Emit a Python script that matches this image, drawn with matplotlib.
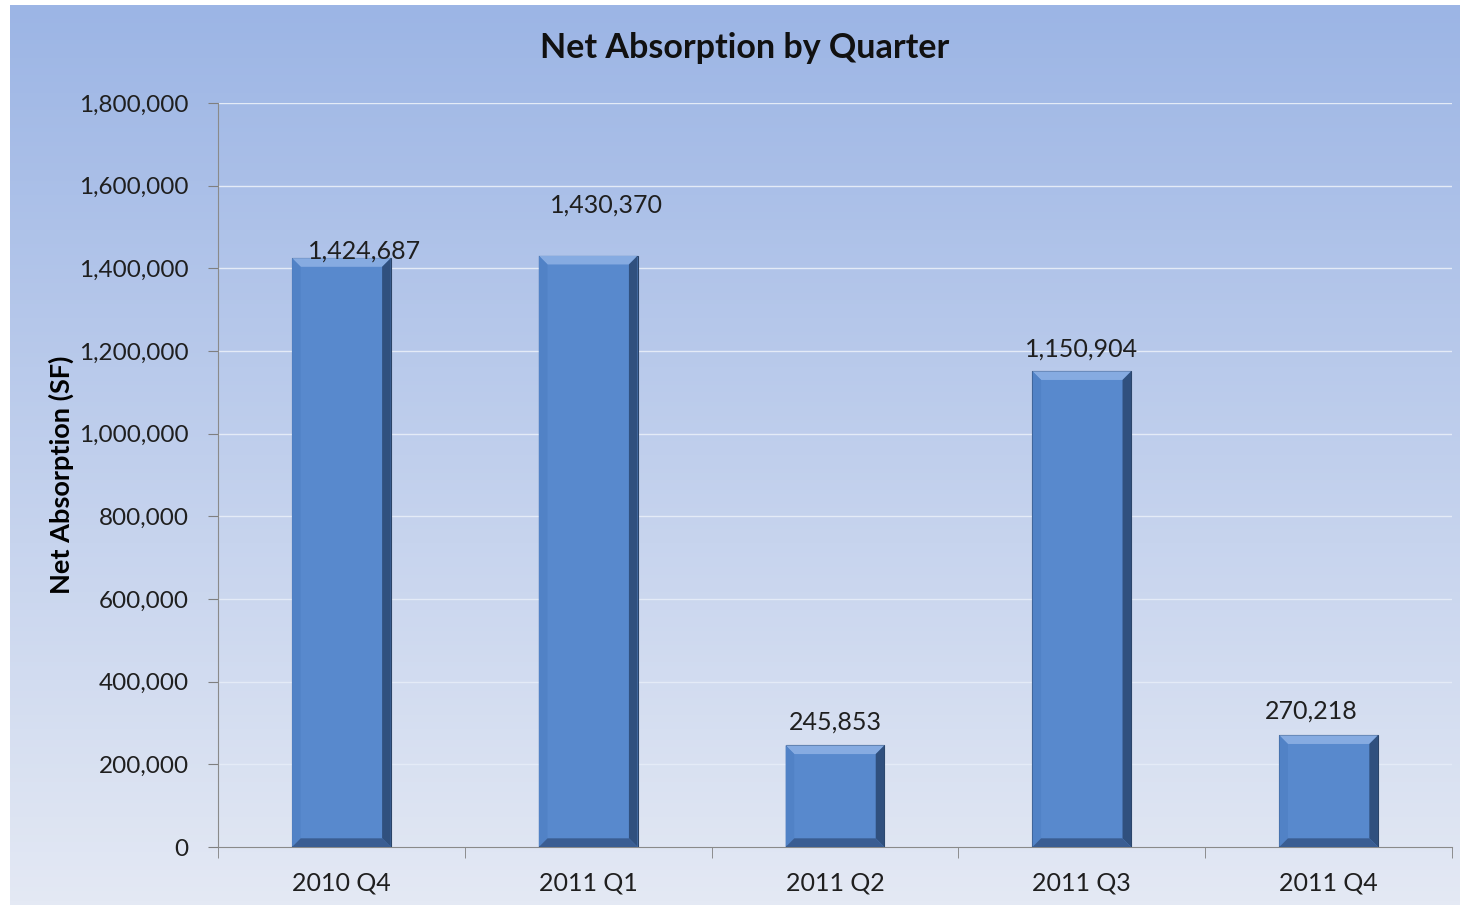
import numpy as np
import matplotlib.pyplot as plt
from matplotlib.patches import Polygon
from matplotlib.ticker import FuncFormatter

quarters = ['2010 Q4', '2011 Q1', '2011 Q2', '2011 Q3', '2011 Q4']
absorption = [1424687, 1430370, 245853, 1150904, 270218]
# excel placed the labels a bit unevenly
label_dy = [-10000, 95000, 28000, 26000, 30000]
label_dx = [0.093, 0.073, 0.0, 0.0, -0.069]

plt.rcParams['font.family'] = ['Lato', 'DejaVu Sans']

W, H = 1462, 910
fig = plt.figure(figsize=(W / 100, H / 100), dpi=100)
fig.patch.set_facecolor('white')

# gradient chart area background
bg = fig.add_axes([10 / W, 5 / H, 1450 / W, 900 / H])
top_c = np.array([156, 181, 229]) / 255
bot_c = np.array([228, 233, 244]) / 255
t = np.linspace(0, 1, 256)[:, None]
grad = top_c[None, :] * (1 - t) + bot_c[None, :] * t
bg.imshow(grad[:, None, :], aspect='auto', extent=[0, 1, 0, 1])
bg.axis('off')

ax = fig.add_axes([218 / W, 1 - 847 / H, (1452 - 218) / W, (847 - 103) / H])
ax.set_facecolor('none')

x = np.arange(len(quarters))
w = 0.4
bars = ax.bar(x, absorption, width=w, color='#5889cd', edgecolor='#2b4468',
              linewidth=0.8, zorder=3)

# fake the bevel look
bx = 0.035
by = 21000
for b in bars:
    x0 = b.get_x()
    x1 = x0 + b.get_width()
    h = b.get_height()
    faces = [
        ([(x0, h), (x1, h), (x1 - bx, h - by), (x0 + bx, h - by)], '#86abe1'),
        ([(x0, 0), (x0, h), (x0 + bx, h - by), (x0 + bx, by)], '#5182c6'),
        ([(x1, 0), (x1, h), (x1 - bx, h - by), (x1 - bx, by)], '#30507e'),
        ([(x0, 0), (x1, 0), (x1 - bx, by), (x0 + bx, by)], '#3a5d92'),
    ]
    for pts, col in faces:
        ax.add_patch(Polygon(pts, closed=True, facecolor=col, edgecolor='none', zorder=4))

for i, v in enumerate(absorption):
    ax.text(x[i] + label_dx[i], v + label_dy[i], f'{v:,}', ha='center', va='bottom',
            fontsize=18, color='#1f1f1f', zorder=5)

ax.set_xlim(-0.5, len(quarters) - 0.5)
ax.set_ylim(0, 1800000)
ax.set_yticks(np.arange(0, 1800001, 200000))
ax.yaxis.set_major_formatter(FuncFormatter(lambda v, p: f'{int(v):,}'))
ax.grid(axis='y', color='#e4ebf7', linewidth=1.0, zorder=0)
ax.set_axisbelow(True)

ax.set_xticks(x)
ax.set_xticklabels(quarters)
ax.set_xticks(np.arange(-0.5, len(quarters)), minor=True)
ax.tick_params(axis='x', which='major', length=0, pad=18, labelsize=18, labelcolor='#1f1f1f')
ax.tick_params(axis='x', which='minor', length=8, color='#7f7f7f', direction='out')
ax.tick_params(axis='y', length=7, color='#7f7f7f', pad=14, labelsize=17.5, labelcolor='#1f1f1f')

for s in ['top', 'right']:
    ax.spines[s].set_visible(False)
for s in ['left', 'bottom']:
    ax.spines[s].set_color('#8a8a8a')

ax.set_ylabel('Net Absorption (SF)', fontsize=19.5, fontweight='bold', labelpad=4)
fig.text(745 / W, 1 - 48 / H, 'Net Absorption by Quarter', ha='center', va='center',
         fontsize=24.5, fontweight='bold', color='#111111')

fig.savefig('out.png', dpi=100)
